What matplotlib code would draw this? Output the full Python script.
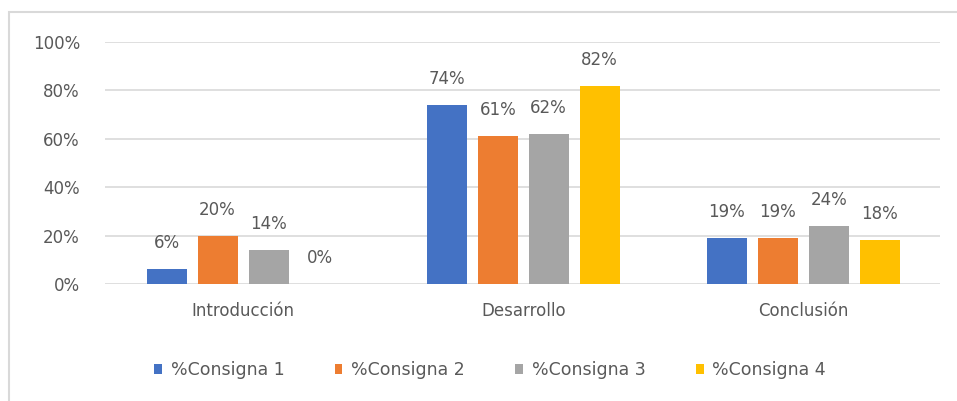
import numpy as np
import matplotlib.pyplot as plt
from matplotlib.patches import Rectangle

secciones = ["Introducción", "Desarrollo", "Conclusión"]
series = ["%Consigna 1", "%Consigna 2", "%Consigna 3", "%Consigna 4"]
consigna1 = [6, 74, 19]
consigna2 = [20, 61, 19]
consigna3 = [14, 62, 24]
consigna4 = [0, 82, 18]
colores = ["#4472C4", "#ED7D31", "#A5A5A5", "#FFC000"]

valores = [consigna1, consigna2, consigna3, consigna4]
texto = "#595959"
plt.rcParams['font.family'] = ['DejaVu Sans']

fig = plt.figure(figsize=(9.57, 4.01), dpi=100)
ax = fig.add_axes([0.1097, 0.292, 0.8725, 0.603])

# marco del grafico
fig.patches.append(Rectangle((9/957, -0.01), 1.0, 1 - 12/401 + 0.01, transform=fig.transFigure,
                             fill=False, edgecolor="#d9d9d9", linewidth=1.5))

x = np.arange(len(secciones))
paso = 0.182
ancho = 0.143
for i, (vals, nombre, c) in enumerate(zip(valores, series, colores)):
    pos = x + (i - 1.5) * paso
    ax.bar(pos, vals, width=ancho, color=c, label=nombre, zorder=3)
    for p, v in zip(pos, vals):
        ax.text(p, v + 7, f"{v}%", ha="center", va="bottom", fontsize=12, color=texto)

ax.set_xlim(-0.493, 2.4875)
ax.set_ylim(0, 100)
ax.set_yticks(range(0, 101, 20))
ax.set_yticklabels([f"{v}%" for v in range(0, 101, 20)])
ax.set_xticks(x)
ax.set_xticklabels(secciones)
ax.grid(axis="y", color="#d9d9d9", linewidth=1.2, zorder=0)
for s in ax.spines.values():
    s.set_visible(False)
ax.tick_params(length=0, labelsize=12, labelcolor=texto)
ax.tick_params(axis="x", pad=13)
ax.tick_params(axis="y", pad=18)

fig.legend(loc="center", bbox_to_anchor=(0.512, 0.077), ncol=4, frameon=False,
           fontsize=12.5, labelcolor=texto, handlelength=0.45, handleheight=0.45,
           handletextpad=0.5, columnspacing=2.9)

fig.savefig("out.png", dpi=100)
